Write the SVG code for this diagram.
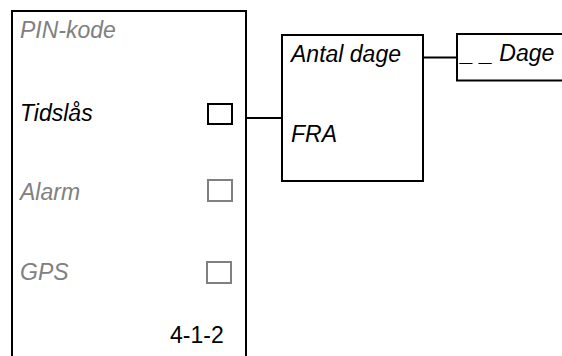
<svg xmlns="http://www.w3.org/2000/svg" width="562" height="356" viewBox="0 0 562 356">
<style>
.box{fill:#fff;stroke:#000;stroke-width:2}
.cb{fill:none;stroke:#000;stroke-width:2}
.cbg{fill:none;stroke:#808080;stroke-width:2}
.t{font-family:"Liberation Sans",Arial,sans-serif;font-size:23px;font-style:italic;fill:#000}
.g{fill:#808080}
.n{font-family:"Liberation Sans",Arial,sans-serif;font-size:23px;fill:#000}
.c{stroke:#000;stroke-width:2;fill:none}
</style>
<rect width="562" height="356" fill="#fff"/>
<g id="menu">
<path class="box" d="M12,360 V11 H246 V360"/>
<text class="t g" x="20" y="38">PIN-kode</text>
<text class="t" x="20" y="121">Tidslås</text>
<rect class="cb" x="208" y="104" width="24" height="20"/>
<text class="t g" x="20" y="200">Alarm</text>
<rect class="cbg" x="208" y="180" width="24" height="21"/>
<text class="t g" x="20" y="280">GPS</text>
<rect class="cbg" x="207" y="262" width="24" height="21"/>
<text class="n" x="170" y="343">4-1-2</text>
</g>
<g id="tidslaas">
<rect class="box" x="282" y="35" width="141" height="146"/>
<text class="t" x="291" y="62">Antal dage</text>
<text class="t" x="291" y="142">FRA</text>
</g>
<g id="dage">
<path class="box" d="M580,34 H457 V80.5 H580"/>
<text class="t" x="461" y="61">_ _ Dage</text>
</g>
<g id="connectors">
<line class="c" x1="246" y1="118" x2="282" y2="118"/>
<line class="c" x1="423" y1="57.5" x2="457" y2="57.5"/>
</g>
</svg>
